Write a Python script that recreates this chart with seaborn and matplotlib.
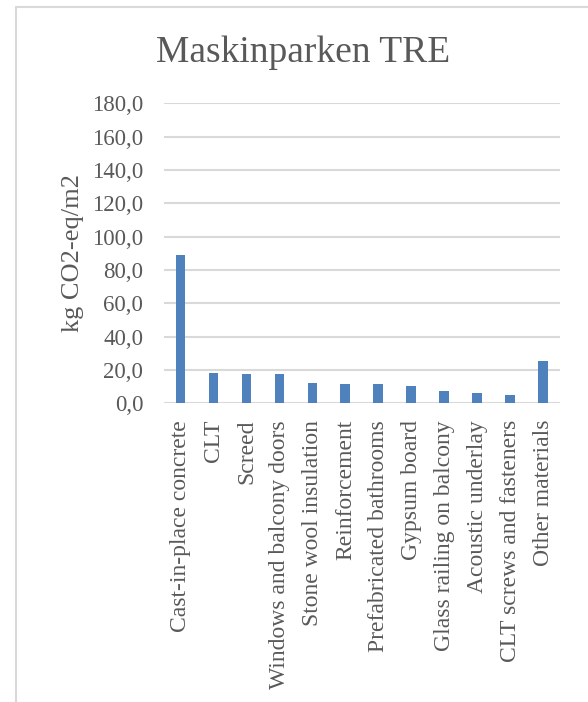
import matplotlib
matplotlib.use("Agg")
import matplotlib.pyplot as plt
from matplotlib.lines import Line2D
import seaborn as sns
import pandas as pd

materials = [
    "Cast-in-place concrete", "CLT", "Screed", "Windows and balcony doors",
    "Stone wool insulation", "Reinforcement", "Prefabricated bathrooms",
    "Gypsum board", "Glass railing on balcony", "Acoustic underlay",
    "CLT screws and fasteners", "Other materials",
]
emissions = [88.8, 18.0, 17.6, 17.4, 12.2, 11.6, 11.4, 10.4, 7.4, 6.2, 5.2, 25.2]
yticks = [0, 20, 40, 60, 80, 100, 120, 140, 160, 180]

df = pd.DataFrame({"material": materials, "value": emissions})

sns.set_theme(style="white")
plt.rcParams["font.family"] = ["Liberation Serif", "DejaVu Serif"]

text_color = "#595959"
grid_color = "#d9d9d9"

fig = plt.figure(figsize=(5.88, 7.02), dpi=100)
ax = fig.add_axes([0.279, 0.4255, 0.673, 0.4275])

sns.barplot(data=df, x="material", y="value", color="#4f81bd",
            width=0.3, saturation=1, linewidth=0, ax=ax, zorder=3)

ax.set_ylim(0, 180)
ax.set_xlim(-0.5, len(materials) - 0.5)
ax.set_yticks(yticks)
ax.set_yticklabels([f"{v:.1f}".replace(".", ",") for v in yticks])
ax.yaxis.grid(True, color=grid_color, linewidth=1.5, zorder=0)
ax.set_axisbelow(True)
for s in ax.spines.values():
    s.set_visible(False)

ax.tick_params(axis="y", length=0, pad=15, labelsize=16.5, labelcolor=text_color)
ax.tick_params(axis="x", length=0, pad=12, labelsize=17, labelcolor=text_color,
               labelrotation=90)
for lbl in ax.get_xticklabels():
    lbl.set_va("top")
    lbl.set_ha("center")

ax.set_xlabel("")
ax.set_ylabel("kg CO2-eq/m2", fontsize=19, color=text_color, labelpad=6)

fig.text(0.515, 0.912, "Maskinparken TRE", ha="center", va="baseline",
         fontsize=27, color=text_color)

# chart-area frame
fig.add_artist(Line2D([16 / 588, 16 / 588], [0, 1 - 7 / 702],
                      transform=fig.transFigure, color=grid_color, linewidth=1.5))
fig.add_artist(Line2D([16 / 588, 1], [1 - 7 / 702, 1 - 7 / 702],
                      transform=fig.transFigure, color=grid_color, linewidth=1.5))

fig.savefig("out.png", dpi=100)
